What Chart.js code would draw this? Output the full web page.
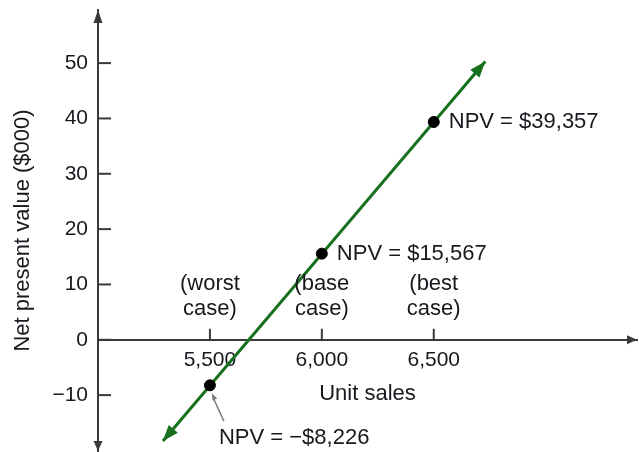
<!DOCTYPE html>
<html>
<head>
<meta charset="utf-8">
<script src="https://cdn.jsdelivr.net/npm/chart.js@4.4.1/dist/chart.umd.min.js"></script>
<style>
  html, body { margin: 0; padding: 0; background: #fff; }
</style>
</head>
<body>
<canvas id="chart" width="639" height="452"></canvas>
<script>
// the three scenarios
const caseUnits = [5500, 6000, 6500];
const caseNPV = [-8.226, 15.567, 39.357];
const caseNames = [['(worst', 'case)'], ['(base', 'case)'], ['(best', 'case)']];
const npvLabels = ['NPV = \u2212$8,226', 'NPV = $15,567', 'NPV = $39,357'];

// ends of the green line (arrow tips)
const lineUnits = [5290, 6730];
const lineNPV = [-18.3, 50.3];

const xTicks = [5500, 6000, 6500];
const yTicks = [-10, 0, 10, 20, 30, 40, 50];

const axisColor = '#3a3a3a';
const textColor = '#18181f';
const green = '#17701d';

Chart.defaults.font.family = '"Liberation Sans", Arial, sans-serif';
Chart.defaults.color = textColor;

function arrowHead(ctx, x, y, angle, len, half) {
  ctx.save();
  ctx.translate(x, y);
  ctx.rotate(angle);
  ctx.beginPath();
  ctx.moveTo(0, 0);
  ctx.lineTo(-len, -half);
  ctx.lineTo(-len, half);
  ctx.closePath();
  ctx.fill();
  ctx.restore();
}

function seg(ctx, x1, y1, x2, y2) {
  ctx.beginPath();
  ctx.moveTo(x1, y1);
  ctx.lineTo(x2, y2);
  ctx.stroke();
}

// no extra layout padding from tick labels
function noPadding(s) {
  s.paddingTop = 0;
  s.paddingBottom = 0;
  s.paddingLeft = 0;
  s.paddingRight = 0;
}

const decorations = {
  id: 'decorations',
  afterDraw(chart) {
    const { ctx, chartArea: a, scales: { x, y } } = chart;
    const y0 = y.getPixelForValue(0);
    ctx.save();

    // axis arrows and inside tick marks
    ctx.fillStyle = axisColor;
    arrowHead(ctx, a.left, a.top, -Math.PI / 2, 13, 4.5);
    arrowHead(ctx, a.left, a.bottom, Math.PI / 2, 10, 4.5);
    arrowHead(ctx, a.right, y0, 0, 10, 4.5);
    ctx.strokeStyle = axisColor;
    ctx.lineWidth = 2;
    yTicks.forEach(v => {
      const py = y.getPixelForValue(v);
      seg(ctx, a.left, py, a.left + 13, py);
    });
    xTicks.forEach(v => {
      const px = x.getPixelForValue(v);
      seg(ctx, px, y0, px, y0 - 11);
    });

    // arrow heads on the green line
    const lineMeta = chart.getDatasetMeta(1);
    const p0 = lineMeta.data[0], p1 = lineMeta.data[1];
    const ang = Math.atan2(p1.y - p0.y, p1.x - p0.x);
    ctx.fillStyle = green;
    arrowHead(ctx, p1.x, p1.y, ang, 16, 6);
    arrowHead(ctx, p0.x, p0.y, ang + Math.PI, 16, 6);

    // case names above the x axis
    ctx.fillStyle = textColor;
    ctx.font = '22px "Liberation Sans", Arial, sans-serif';
    ctx.textAlign = 'center';
    ctx.textBaseline = 'middle';
    caseUnits.forEach((u, i) => {
      const px = x.getPixelForValue(u);
      caseNames[i].forEach((t, k) => ctx.fillText(t, px, y0 - 56 + k * 25));
    });

    // NPV labels next to the points
    const offsets = [[9, 53], [15, 0], [15, 0]];
    ctx.textAlign = 'left';
    caseUnits.forEach((u, i) => {
      const px = x.getPixelForValue(u);
      const py = y.getPixelForValue(caseNPV[i]);
      ctx.fillText(npvLabels[i], px + offsets[i][0], py + offsets[i][1]);
    });

    // pointer from the worst-case label up to its point
    const wx = x.getPixelForValue(caseUnits[0]);
    const wy = y.getPixelForValue(caseNPV[0]);
    ctx.strokeStyle = '#7a7a7a';
    ctx.lineWidth = 1.5;
    seg(ctx, wx + 3, wy + 12, wx + 14, wy + 36);
    ctx.fillStyle = '#7a7a7a';
    arrowHead(ctx, wx + 2, wy + 8, Math.atan2(-24, -11), 7, 2.5);

    ctx.restore();
  }
};

new Chart(document.getElementById('chart'), {
  type: 'scatter',
  data: {
    datasets: [
      {
        data: caseUnits.map((u, i) => ({ x: u, y: caseNPV[i] })),
        backgroundColor: '#000',
        borderColor: '#000',
        pointRadius: 5.5,
        showLine: false
      },
      {
        data: lineUnits.map((u, i) => ({ x: u, y: lineNPV[i] })),
        borderColor: green,
        borderWidth: 3,
        pointRadius: 0,
        showLine: true
      }
    ]
  },
  options: {
    responsive: false,
    animation: false,
    layout: { autoPadding: false, padding: { top: 10, right: 2, bottom: 1, left: 0 } },
    plugins: {
      legend: { display: false },
      tooltip: { enabled: false }
    },
    scales: {
      x: {
        type: 'linear',
        position: { y: 0 },
        min: 5000,
        max: 7408,
        afterBuildTicks: s => { s.ticks = xTicks.map(v => ({ value: v })); },
        afterFit: noPadding,
        grid: { display: false, drawTicks: false },
        border: { display: true, color: axisColor, width: 2 },
        ticks: {
          padding: 8,
          color: textColor,
          font: { size: 21 },
          maxRotation: 0,
          callback: v => v.toLocaleString('en-US')
        },
        title: {
          display: true,
          text: 'Unit sales',
          color: textColor,
          font: { size: 22 },
          padding: { top: 0, bottom: 4 }
        }
      },
      y: {
        type: 'linear',
        position: 'left',
        min: -20.1,
        max: 59.6,
        afterBuildTicks: s => { s.ticks = yTicks.map(v => ({ value: v })); },
        afterFit: s => { s.width = 98; noPadding(s); },
        grid: { display: false, drawTicks: false },
        border: { display: true, color: axisColor, width: 2 },
        ticks: {
          padding: 10,
          color: textColor,
          font: { size: 21 },
          callback: v => (v < 0 ? '\u2212' + Math.abs(v) : String(v))
        },
        title: {
          display: true,
          text: 'Net present value ($000)',
          color: textColor,
          font: { size: 22 },
          padding: { top: 10, bottom: 4 }
        }
      }
    }
  },
  plugins: [decorations]
});
</script>
</body>
</html>
